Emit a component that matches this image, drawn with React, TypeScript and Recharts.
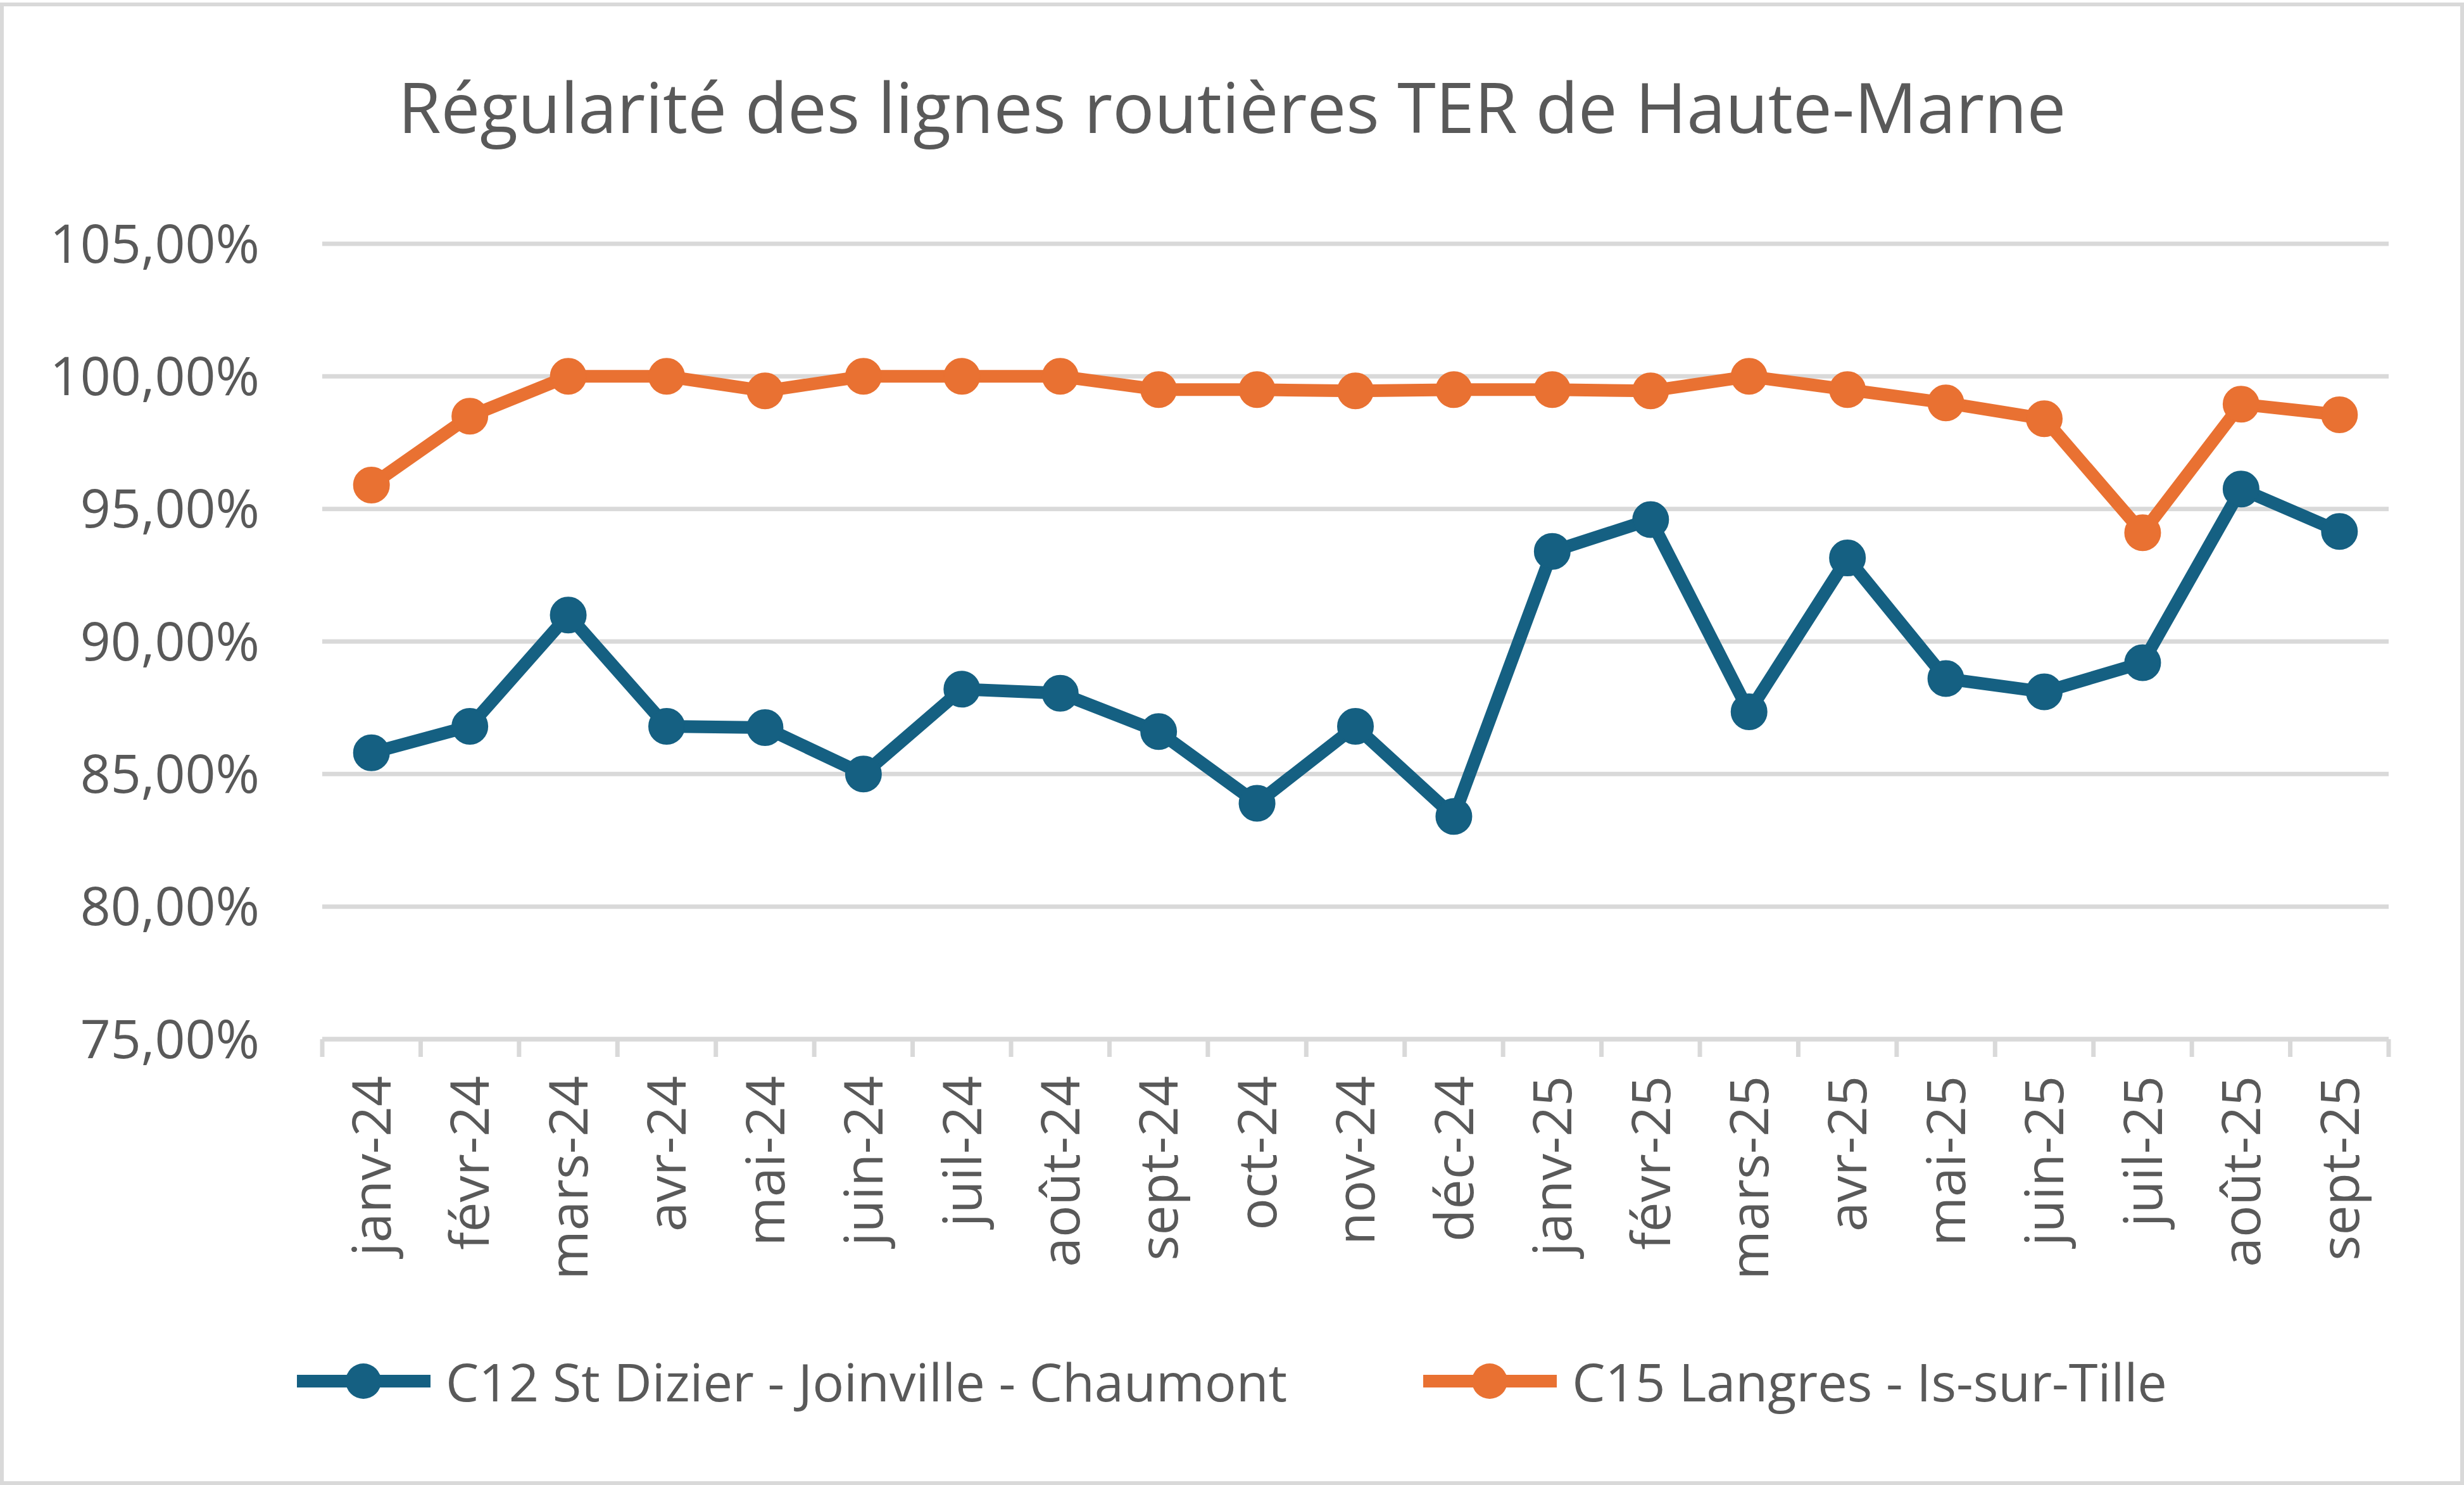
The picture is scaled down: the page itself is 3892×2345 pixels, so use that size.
import React from 'react';
import { LineChart, Line, XAxis, YAxis, CartesianGrid } from 'recharts';

// Monthly punctuality of the Haute-Marne TER coach lines
const months = [
  'janv-24', 'févr-24', 'mars-24', 'avr-24', 'mai-24', 'juin-24', 'juil-24',
  'août-24', 'sept-24', 'oct-24', 'nov-24', 'déc-24', 'janv-25', 'févr-25',
  'mars-25', 'avr-25', 'mai-25', 'juin-25', 'juil-25', 'août-25', 'sept-25',
];

const c12Values = [
  85.8, 86.8, 91.0, 86.8, 86.75, 85.0, 88.2, 88.05, 86.6, 83.9, 86.8,
  83.4, 93.4, 94.6, 87.35, 93.15, 88.6, 88.1, 89.2, 95.75, 94.15,
];

const c15Values = [
  95.9, 98.5, 100, 100, 99.45, 100, 100, 100, 99.5, 99.5, 99.45,
  99.5, 99.5, 99.45, 100, 99.5, 99.0, 98.4, 94.1, 98.95, 98.55,
];

const yTicks = [75, 80, 85, 90, 95, 100, 105];

const seriesNames = ['C12 St Dizier - Joinville - Chaumont', 'C15 Langres - Is-sur-Tille'];
const seriesColors = ['#156082', '#E97132'];

const data = months.map((m, i) => ({ month: m, c12: c12Values[i], c15: c15Values[i] }));

const W = 3892;
const H = 2345;
const PLOT_LEFT = 509;
const PLOT_RIGHT = 3773;
const PLOT_TOP = 385;
const PLOT_BOTTOM = 1641;
const BAND = (PLOT_RIGHT - PLOT_LEFT) / months.length;
const FONT = "'Open Sans', sans-serif";
const TEXT = '#595959';
const GRID = '#d9d9d9';

const fmtPct = (v: number) => `${v.toFixed(2).replace('.', ',')}%`;

// category labels rotated, tick marks sit on the category boundaries like Excel
function XTick({ x, y, payload, index }: any) {
  const last = index === months.length - 1;
  return (
    <g>
      <line x1={x - BAND / 2} y1={y} x2={x - BAND / 2} y2={y + 28} stroke={GRID} strokeWidth={7} />
      {last && <line x1={x + BAND / 2} y1={y} x2={x + BAND / 2} y2={y + 28} stroke={GRID} strokeWidth={7} />}
      <text
        transform={`translate(${x}, ${y + 58}) rotate(-90)`}
        textAnchor="end"
        dy="0.36em"
        fill={TEXT}
        fontSize={84}
        fontFamily={FONT}
      >
        {payload.value}
      </text>
    </g>
  );
}

function LegendIcon({ color }: { color: string }) {
  return (
    <svg width={211} height={60} style={{ display: 'block' }}>
      <line x1={0} y1={30} x2={211} y2={30} stroke={color} strokeWidth={20} />
      <circle cx={105} cy={30} r={28} fill={color} />
    </svg>
  );
}

export default function App() {
  return (
    <div style={{ position: 'fixed', left: 0, top: 0, width: W, height: H, background: '#fff' }}>
      <div
        style={{
          position: 'absolute', left: 0, top: 4, width: W, height: H - 4,
          border: `6px solid ${GRID}`, boxSizing: 'border-box',
        }}
      />
      <div
        style={{
          position: 'absolute', left: 0, top: 112, width: W, textAlign: 'center',
          fontFamily: FONT, fontSize: 110, lineHeight: 1, color: TEXT,
        }}
      >
        Régularité des lignes routières TER de Haute-Marne
      </div>
      <div style={{ position: 'absolute', left: 0, top: 0 }}>
        <LineChart
          width={W}
          height={H}
          data={data}
          margin={{ top: PLOT_TOP, right: W - PLOT_RIGHT, bottom: 0, left: 0 }}
        >
          <CartesianGrid vertical={false} stroke={GRID} strokeWidth={7} />
          <XAxis
            dataKey="month"
            height={H - PLOT_BOTTOM}
            interval={0}
            padding={{ left: BAND / 2, right: BAND / 2 }}
            tickSize={0}
            tickMargin={0}
            tickLine={false}
            axisLine={{ stroke: GRID, strokeWidth: 7 }}
            tick={<XTick />}
          />
          <YAxis
            width={PLOT_LEFT}
            domain={[75, 105]}
            ticks={yTicks}
            interval={0}
            axisLine={false}
            tickLine={false}
            tickSize={0}
            tickMargin={PLOT_LEFT - 410}
            tickFormatter={fmtPct}
            tick={{ fill: TEXT, fontSize: 84, fontFamily: FONT }}
          />
          <Line
            dataKey="c12"
            name={seriesNames[0]}
            stroke={seriesColors[0]}
            strokeWidth={20}
            dot={{ r: 28, fill: seriesColors[0], stroke: seriesColors[0], strokeWidth: 2 }}
            isAnimationActive={false}
          />
          <Line
            dataKey="c15"
            name={seriesNames[1]}
            stroke={seriesColors[1]}
            strokeWidth={20}
            dot={{ r: 28, fill: seriesColors[1], stroke: seriesColors[1], strokeWidth: 2 }}
            isAnimationActive={false}
          />
        </LineChart>
      </div>
      <div
        style={{
          position: 'absolute', left: 0, top: 2139, width: W, display: 'flex',
          justifyContent: 'center', alignItems: 'center', gap: 215,
          fontFamily: FONT, fontSize: 83, lineHeight: 1, color: TEXT,
        }}
      >
        {seriesNames.map((n, i) => (
          <div key={n} style={{ display: 'flex', alignItems: 'center', gap: 24 }}>
            <LegendIcon color={seriesColors[i]} />
            <span>{n}</span>
          </div>
        ))}
      </div>
    </div>
  );
}
